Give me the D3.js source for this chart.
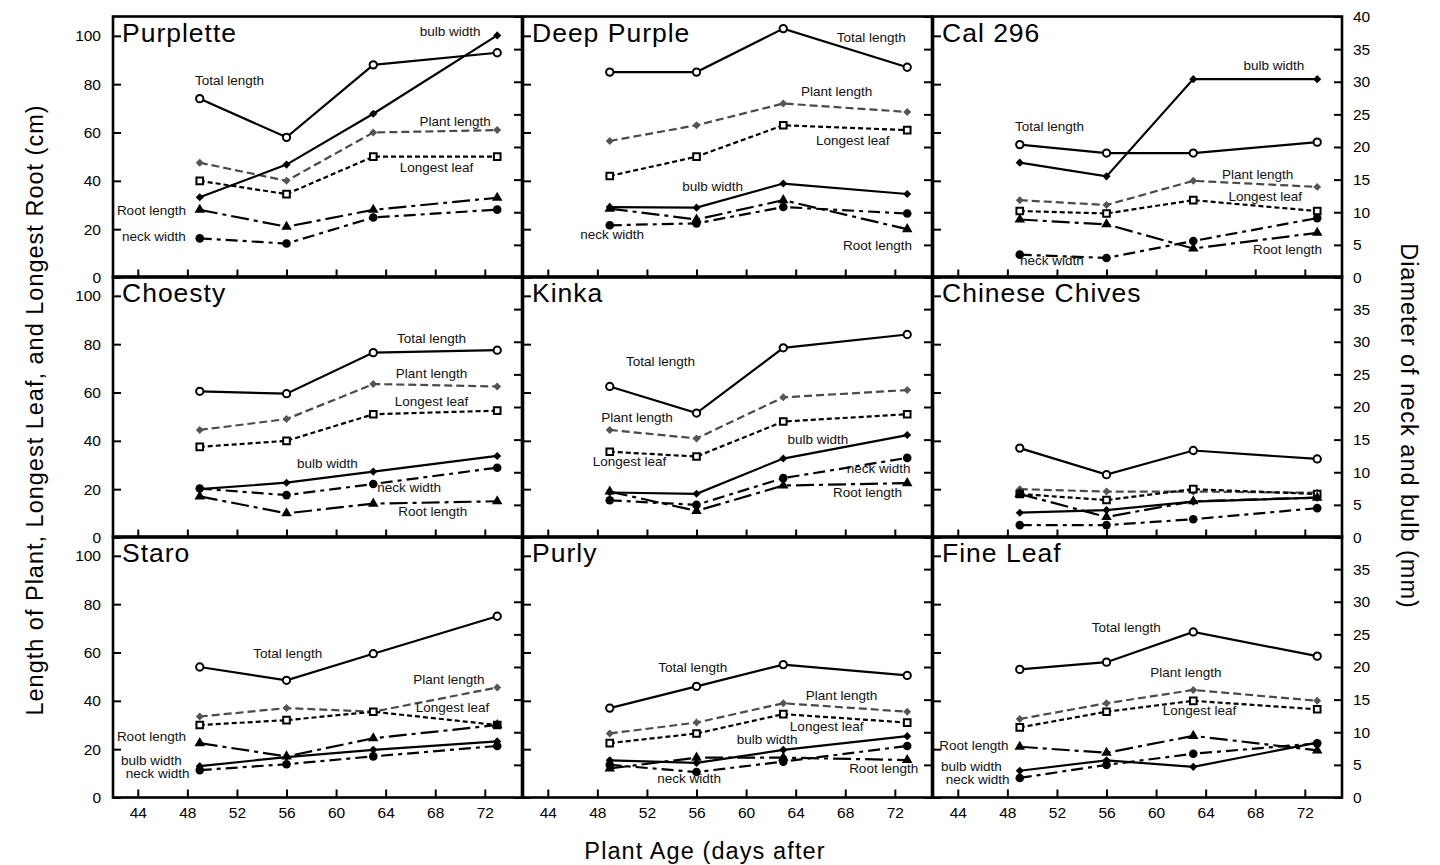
<!DOCTYPE html>
<html>
<head>
<meta charset="utf-8">
<title>Plant growth by variety</title>
<script src="https://cdn.jsdelivr.net/npm/d3@7"></script>
<style>
body{margin:0;background:#fff;}
svg{font-family:"Liberation Sans",Arial,Helvetica,sans-serif;}
</style>
</head>
<body>
<svg width="1440" height="865"></svg>
<script>
/* data */
var days=[49,56,63,73];
var varieties=["Purplette","Deep Purple","Cal 296","Choesty","Kinka","Chinese Chives","Staro","Purly","Fine Leaf"];
var xTicks=[44,48,52,56,60,64,68,72];
var cmTicks=[0,20,40,60,80,100];
var mmTicks=[0,5,10,15,20,25,30,35,40];

/* cm, left axis */
var totalLength=[[74,58,88,93],[85,85,103,87],[55,51.5,51.5,56],[60.5,59.5,76.5,77.5],[62.5,51.5,78.5,84],[37,26,36,32.5],[54,48.5,59.5,75],[37,46,55,50.5],[53,56,68.5,58.5]];
var plantLength=[[47.5,40,60,61],[56.5,63,72,68.5],[32,30,40,37.5],[44.5,49,63.5,62.5],[44.5,41,58,61],[20,19,19,18.5],[33.5,37,35.5,45.5],[26.5,31,39,35.5],[32.5,39,44.5,40]];
var longestLeaf=[[40,34.5,50,50],[42,50,63,61],[27.5,26.5,32,27.5],[37.5,40,51,52.5],[35.5,33.5,48,51],[18,15.5,20,18],[30,32,35.5,30],[22.5,26.5,34.5,31],[29,35.5,40,36.5]];
var rootLength=[[28,21,28,33],[28.5,24,32,20],[24,22,12,18.5],[17,10,14,15],[19,11,21.5,22.5],[18,8.5,15,16.5],[22.5,17,24.5,30],[12,16.5,16.5,15.5],[21,18.5,25.5,19.5]];
/* mm, right axis */
var bulbWidth=[[12.3,17.3,25.1,37.1],[10.8,10.7,14.4,12.8],[17.6,15.5,30.4,30.4],[7.4,8.4,10.1,12.5],[6.9,6.7,12.1,15.7],[3.8,4.2,5.5,6.1],[4.8,6.2,7.3,8.6],[5.7,5.3,7.3,9.4],[4.1,5.7,4.7,8.4]];
var neckWidth=[[6,5.2,9.2,10.4],[8,8.3,10.8,9.8],[3.5,3,5.6,9.1],[7.5,6.5,8.2,10.7],[5.7,5,9.1,12.2],[1.9,1.9,2.8,4.5],[4.2,5.1,6.3,7.9],[5,3.9,5.5,7.9],[3,5,6.7,8.3]];

/* annotation spots: [label, day, cm] */
var labelSpots=[
 [["bulb width",69.2,101.8],["Total length",51.4,81.5],["Plant length",69.6,64.5],["Longest leaf",68.1,45.5],["Root length",45.1,27.7],["neck width",45.3,17]],
 [["Total length",70.1,99.3],["Plant length",67.3,77],["Longest leaf",68.6,56.7],["bulb width",57.3,37.6],["neck width",49.2,17.8],["Root length",70.6,13.2]],
 [["bulb width",69.5,87.7],["Total length",51.4,62.5],["Plant length",68.2,42.6],["Longest leaf",68.8,33.5],["Root length",70.6,11.6],["neck width",51.6,7]],
 [["Total length",67.7,82.3],["Plant length",67.7,67.8],["Longest leaf",67.7,56.3],["bulb width",59.3,30.6],["neck width",65.9,20.7],["Root length",67.8,10.8]],
 [["Total length",53.1,72.8],["Plant length",51.2,49.6],["Longest leaf",50.6,31.4],["bulb width",65.8,40.5],["neck width",70.7,28.5],["Root length",69.8,18.6]],
 [],
 [["Total length",56.1,59.6],["Plant length",69.1,48.8],["Longest leaf",69.4,37.2],["Root length",45.1,25.2],["bulb width",45.1,15.3],["neck width",45.6,9.9]],
 [["Total length",55.7,53.9],["Plant length",67.7,42.4],["Longest leaf",66.5,29.6],["bulb width",61.7,24],["neck width",55.4,7.9],["Root length",71.1,12]],
 [["Total length",57.6,70.3],["Plant length",62.4,51.7],["Longest leaf",63.5,36],["Root length",45.3,21.5],["bulb width",45.1,12.8],["neck width",45.6,7.4]]
];

/* layout */
var svg=d3.select("svg");
var left0=113, top0=16.5, colStep=410, rowStep=260;
var panelW=409, panelH=261;

var x=d3.scaleLinear().domain([42,75]).range([0,panelW]);
var yCm=d3.scaleLinear().domain([0,108]).range([panelH,0]);
var yMm=d3.scaleLinear().domain([0,40]).range([panelH,0]);

var series=[
 {values:plantLength,y:yCm,stroke:"#4a4a4a",dash:"8,4",sym:d3.symbolDiamond2,size:40,fill:"#555",mstroke:"#555",mw:0},
 {values:longestLeaf,y:yCm,stroke:"#000",dash:"5,3",sym:d3.symbolSquare,size:44,fill:"#fff",mstroke:"#000",mw:2},
 {values:rootLength,y:yCm,stroke:"#000",dash:"18,5,4,5",sym:d3.symbolTriangle,size:48,fill:"#000",mstroke:"#000",mw:0},
 {values:neckWidth,y:yMm,stroke:"#000",dash:"12,5,4,5",sym:d3.symbolCircle,size:58,fill:"#000",mstroke:"#000",mw:0},
 {values:bulbWidth,y:yMm,stroke:"#000",dash:null,sym:d3.symbolDiamond2,size:42,fill:"#000",mstroke:"#000",mw:0},
 {values:totalLength,y:yCm,stroke:"#000",dash:null,sym:d3.symbolCircle,size:42,fill:"#fff",mstroke:"#000",mw:2}
];

varieties.forEach(function(name,i){
	var col=i%3, row=Math.floor(i/3);
	var g=svg.append("g")
		.attr("transform","translate("+(left0+col*colStep)+","+(top0+row*rowStep)+")");

	/* axes, ticks point inward */
	var ax=g.append("g")
		.call(d3.axisLeft(yCm).tickValues(cmTicks).tickSize(-8).tickPadding(12)
			.tickFormat(function(d){return col==0?d:"";}));
	var ar=g.append("g").attr("transform","translate("+panelW+",0)")
		.call(d3.axisRight(yMm).tickValues(mmTicks).tickSize(-8).tickPadding(11)
			.tickFormat(function(d){return (col==2 && !(row>0 && d==40))?d:"";}));
	var ab=g.append("g").attr("transform","translate(0,"+panelH+")")
		.call(d3.axisBottom(x).tickValues(xTicks).tickSize(-8).tickPadding(9)
			.tickFormat(function(d){return row==2?d:"";}));
	[ax,ar,ab].forEach(function(a){
		a.attr("font-family",null).attr("font-size","15.5px");
		a.select(".domain").remove();
		a.selectAll("line").attr("stroke","#000").attr("stroke-width",2);
		a.selectAll("text").attr("fill","#000");
	});

	/* lines and markers */
	series.forEach(function(s){
		var pts=d3.zip(days,s.values[i]);
		var line=d3.line().x(function(d){return x(d[0]);}).y(function(d){return s.y(d[1]);});
		g.append("path")
			.attr("d",line(pts))
			.attr("fill","none")
			.attr("stroke",s.stroke)
			.attr("stroke-width",2.2)
			.attr("stroke-dasharray",s.dash);
		g.selectAll(null).data(pts).enter().append("path")
			.attr("d",d3.symbol().type(s.sym).size(s.size)())
			.attr("transform",function(d){return "translate("+x(d[0])+","+s.y(d[1])+")";})
			.attr("fill",s.fill)
			.attr("stroke",s.mstroke)
			.attr("stroke-width",s.mw);
	});

	/* annotations */
	g.selectAll(".lab").data(labelSpots[i]).enter().append("text")
		.attr("x",function(d){return x(d[1]);})
		.attr("y",function(d){return yCm(d[2]);})
		.attr("dy","0.35em")
		.attr("text-anchor","middle")
		.attr("font-size","13.5px")
		.attr("fill","#111")
		.text(function(d){return d[0];});

	/* frame and title */
	g.append("rect")
		.attr("width",panelW).attr("height",panelH)
		.attr("fill","none").attr("stroke","#000").attr("stroke-width",2.6);
	g.append("text")
		.attr("x",9).attr("y",yCm(100)+6.5)
		.attr("font-size","26.5px")
		.attr("letter-spacing","1px")
		.text(name);
});

/* axis titles */
svg.append("text")
	.attr("transform","translate(43,410) rotate(-90)")
	.attr("text-anchor","middle")
	.attr("font-size","23.5px")
	.attr("letter-spacing","1px")
	.text("Length of Plant, Longest Leaf, and Longest Root (cm)");
svg.append("text")
	.attr("transform","translate(1401,426) rotate(90)")
	.attr("text-anchor","middle")
	.attr("font-size","23.5px")
	.attr("letter-spacing","1px")
	.text("Diameter of neck and bulb (mm)");
svg.append("text")
	.attr("x",705).attr("y",859)
	.attr("text-anchor","middle")
	.attr("font-size","23.5px")
	.attr("letter-spacing","1.1px")
	.text("Plant Age (days after");
</script>
</body>
</html>
